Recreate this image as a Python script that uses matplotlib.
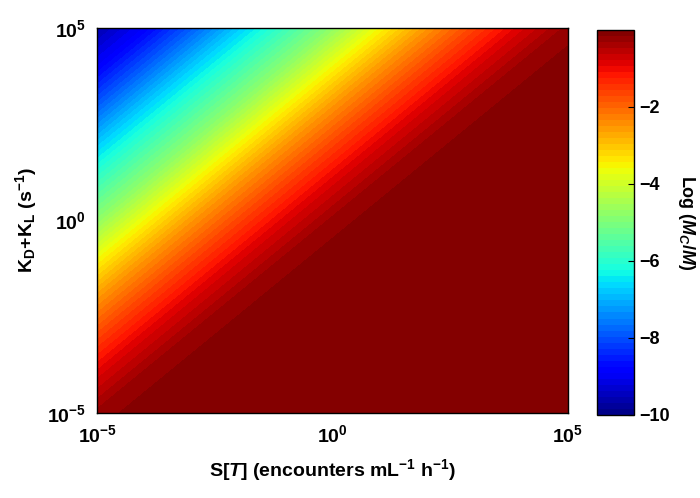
"""
Log(Mc/M) over the encounter rate S[T] and the loss rate KD+KL.
"""

import matplotlib

matplotlib.use("Agg")
import matplotlib.pyplot as plt
import matplotlib.tri as mtri
import numpy as np

# grid nodes (decade exponents), one per decade
log_s = np.arange(-5, 6)
log_k = np.arange(-5, 6)

# Log(Mc/M) read along the diagonals, indexed by log10(K) - log10(S) = -10 .. 10
offsets = np.arange(-10, 11)
log_ratio = [
    0.0, 0.0, 0.0, 0.0, 0.0, 0.0, 0.0, 0.0, -0.005, -0.05,
    -0.25,
    -0.85, -1.65, -2.55, -3.6, -4.8, -5.8, -6.8, -7.9, -8.9, -9.6,
]
axis_ticks = [-5, 0, 5]
axis_ticklabels = [r"$10^{-5}$", r"$10^{0}$", r"$10^{5}$"]
cbar_ticks = [-10, -8, -6, -4, -2]

plt.rcParams["font.family"] = ["Liberation Sans", "DejaVu Sans"]
plt.rcParams["font.weight"] = "bold"
plt.rcParams["mathtext.fontset"] = "custom"
plt.rcParams["mathtext.rm"] = "Liberation Sans:bold"
plt.rcParams["mathtext.it"] = "Liberation Sans:bold:italic"
plt.rcParams["mathtext.bf"] = "Liberation Sans:bold"

# nodes and values: the value depends on the diagonal only
lookup = dict(zip(offsets, log_ratio))
S, K = np.meshgrid(log_s, log_k)
xs, ys = S.ravel(), K.ravel()
zs = np.array([lookup[k - s] for s, k in zip(xs, ys)])

# split every cell along its constant-value diagonal
n = len(log_s)
triangles = []
for j in range(n - 1):
    for i in range(n - 1):
        a = j * n + i
        b = a + 1
        c = a + n
        d = c + 1
        triangles.append([a, b, d])
        triangles.append([a, d, c])
tri = mtri.Triangulation(xs, ys, triangles)

fig = plt.figure(figsize=(7, 4.98), dpi=100)
ax = fig.add_axes([0.139, 0.171, 0.672, 0.773])
cax = fig.add_axes([0.853, 0.167, 0.053, 0.773])

# 64 colour bands like the original; top edge nudged so the flat 0 region fills
levels = np.linspace(-10, 0, 65)
levels[-1] = 0.01
cs = ax.tricontourf(tri, zs, levels=levels, cmap="jet", vmin=-10, vmax=0)
ax.set_xlim(log_s[0], log_s[-1])
ax.set_ylim(log_k[0], log_k[-1])
ax.set_xticks(axis_ticks, axis_ticklabels)
ax.set_yticks(axis_ticks, axis_ticklabels)
ax.tick_params(direction="in", length=0, labelsize=14, pad=8)

ax.set_xlabel(r"S[$\mathit{T}$] (encounters mL$^{-1}$ h$^{-1}$)",
              fontsize=14, fontweight="bold", labelpad=8)
ax.set_ylabel(r"K$_\mathrm{D}$+K$_\mathrm{L}$ (s$^{-1}$)",
              fontsize=14, fontweight="bold", labelpad=6)
for side in ax.spines.values():
    side.set_linewidth(1.0)

cb = fig.colorbar(cs, cax=cax, ticks=cbar_ticks)
cb.ax.set_ylim(-10, 0)
cb.ax.tick_params(direction="in", length=4, labelsize=13, width=0.8)
cb.set_label(r"Log ($\mathit{M}_\mathit{C}$/$\mathit{M}$)", rotation=270,
             fontsize=13, fontweight="bold", labelpad=20)
cb.outline.set_linewidth(1.0)

fig.savefig("out.png", dpi=100)
